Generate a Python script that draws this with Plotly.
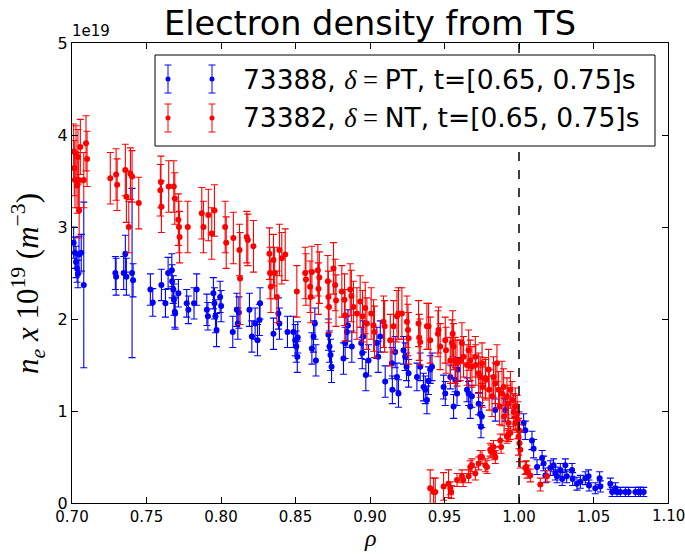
import plotly.graph_objects as go

# Thomson-scattering electron density profiles, in units of 1e19 m^-3
blue_rho = [0.7011, 0.7020, 0.7027, 0.7034, 0.7040, 0.7047, 0.7062, 0.7079,
            0.7291, 0.7296, 0.7347, 0.7358, 0.7365, 0.7403, 0.7410,
            0.7526, 0.7542, 0.7600, 0.7627, 0.7645, 0.7670, 0.7672, 0.7680, 0.7684, 0.7690, 0.7692,
            0.7714, 0.7770, 0.7781, 0.7819, 0.7837, 0.7905, 0.7912, 0.7949, 0.7956, 0.7963, 0.7970,
            0.7994, 0.8001, 0.8079, 0.8106, 0.8113, 0.8120, 0.8191, 0.8207, 0.8229, 0.8245, 0.8258,
            0.8262, 0.8352, 0.8385, 0.8392, 0.8446, 0.8486, 0.8498, 0.8505, 0.8512, 0.8515,
            0.8610, 0.8621, 0.8630, 0.8637, 0.8721, 0.8728, 0.8735, 0.8742, 0.8822, 0.8833,
            0.8845, 0.8852, 0.8878, 0.8941, 0.8948, 0.8955, 0.8972, 0.8990, 0.9046, 0.9055,
            0.9069, 0.9102, 0.9147, 0.9150, 0.9169, 0.9181, 0.9191, 0.9225, 0.9236, 0.9245,
            0.9259, 0.9315, 0.9337, 0.9359, 0.9371, 0.9382, 0.9393, 0.9404, 0.9416, 0.9494,
            0.9505, 0.9539, 0.9561, 0.9572, 0.9584, 0.9590, 0.9651, 0.9662, 0.9673, 0.9684,
            0.9729, 0.9740, 0.9745, 0.9750, 0.9841, 0.9908, 0.9975, 1.0031, 1.0042, 1.0087,
            1.0098, 1.0121, 1.0155, 1.0165, 1.0177, 1.0210, 1.0232, 1.0244, 1.0255, 1.0277,
            1.0290, 1.0311, 1.0320, 1.0356, 1.0360, 1.0389, 1.0412, 1.0445, 1.0467, 1.0470,
            1.0512, 1.0541, 1.0546, 1.0613, 1.0625, 1.0647, 1.0658, 1.0680, 1.0714, 1.0736,
            1.0781, 1.0803, 1.0815, 1.0837]
blue_ne = [2.83, 2.72, 2.62, 2.55, 2.49, 2.70, 2.72, 2.37,
           2.50, 2.46, 2.50, 2.71, 2.46, 2.50, 2.42,
           2.32, 2.18, 2.37, 2.17, 2.50, 2.53, 2.41, 2.32, 2.21, 2.08, 2.06,
           2.28, 2.17, 2.10, 2.17, 2.32, 2.10, 2.03, 2.28, 2.17, 2.03, 1.88,
           2.24, 2.14, 1.86, 2.10, 1.95, 2.07, 2.10, 1.81, 1.95, 1.77, 1.99,
           2.17, 1.84, 2.06, 1.95, 1.86, 1.86, 1.77, 1.70, 1.59, 1.80,
           1.68, 1.81, 1.95, 1.55, 1.83, 1.70, 1.61, 1.48, 1.57, 1.74,
           1.86, 1.93, 1.70, 1.74, 1.63, 1.81, 1.39, 1.55, 1.74, 1.59,
           1.81, 1.32, 1.52, 1.23, 1.64, 1.37, 1.19, 1.66, 1.59, 1.48,
           1.41, 1.37, 1.48, 1.26, 1.23, 1.12, 1.33, 1.45, 1.48, 1.26,
           1.19, 1.37, 1.05, 1.34, 1.19, 1.45, 1.23, 1.19, 1.05, 1.16,
           1.08, 0.97, 0.83, 0.94, 1.01, 1.01, 1.05, 0.87, 0.79, 0.68,
           0.59, 0.39, 0.49, 0.43, 0.30, 0.38, 0.41, 0.32, 0.29, 0.36,
           0.26, 0.41, 0.29, 0.36, 0.26, 0.21, 0.23, 0.27, 0.29, 0.19,
           0.16, 0.27, 0.18, 0.21, 0.12, 0.16, 0.12, 0.12, 0.12, 0.12,
           0.12, 0.12, 0.12, 0.12]
blue_err = [0.17, 0.17, 0.17, 0.15, 0.15, 0.20, 0.20, 0.90,
            0.18, 0.20, 0.18, 0.20, 0.20, 0.92, 0.18,
            0.17, 0.15, 0.17, 0.15, 0.17, 0.18, 0.18, 0.15, 0.17, 0.17, 0.17,
            0.15, 0.15, 0.15, 0.17, 0.17, 0.17, 0.15, 0.17, 0.17, 0.18, 0.18,
            0.17, 0.17, 0.17, 0.18, 0.17, 0.17, 0.18, 0.17, 0.17, 0.17, 0.17,
            0.17, 0.17, 0.17, 0.17, 0.17, 0.17, 0.17, 0.17, 0.17, 0.17,
            0.17, 0.17, 0.17, 0.17, 0.17, 0.17, 0.17, 0.17, 0.17, 0.17,
            0.17, 0.17, 0.17, 0.17, 0.17, 0.17, 0.17, 0.17, 0.17, 0.17,
            0.17, 0.17, 0.17, 0.15, 0.17, 0.15, 0.15, 0.15, 0.15, 0.15,
            0.15, 0.15, 0.15, 0.15, 0.15, 0.15, 0.15, 0.15, 0.15, 0.13,
            0.13, 0.13, 0.13, 0.13, 0.13, 0.13, 0.13, 0.13, 0.13, 0.12,
            0.12, 0.12, 0.12, 0.12, 0.12, 0.12, 0.12, 0.10, 0.10, 0.10,
            0.10, 0.08, 0.08, 0.08, 0.08, 0.08, 0.07, 0.07, 0.07, 0.07,
            0.07, 0.07, 0.07, 0.07, 0.07, 0.07, 0.07, 0.07, 0.07, 0.06,
            0.06, 0.07, 0.06, 0.06, 0.05, 0.06, 0.05, 0.05, 0.05, 0.05,
            0.05, 0.05, 0.05, 0.05]

red_rho = [0.7011, 0.7015, 0.7020, 0.7027, 0.7034, 0.7040, 0.7045, 0.7048, 0.7056, 0.7079,
           0.7094, 0.7101, 0.7257, 0.7296, 0.7303, 0.7358, 0.7365, 0.7381, 0.7392, 0.7403,
           0.7448, 0.7593, 0.7597, 0.7600, 0.7649, 0.7683, 0.7690, 0.7714, 0.7718, 0.7722,
           0.7777, 0.7871, 0.7882, 0.7915, 0.7938, 0.7956, 0.8028, 0.8035, 0.8083, 0.8124,
           0.8128, 0.8173, 0.8180, 0.8218, 0.8325, 0.8329, 0.8335, 0.8352, 0.8360, 0.8375,
           0.8392, 0.8408, 0.8431, 0.8509, 0.8565, 0.8570, 0.8598, 0.8602, 0.8610, 0.8650,
           0.8654, 0.8660, 0.8717, 0.8721, 0.8725, 0.8755, 0.8766, 0.8772, 0.8811, 0.8829,
           0.8833, 0.8867, 0.8875, 0.8889, 0.8912, 0.8934, 0.8950, 0.8968, 0.8979, 0.9008,
           0.9024, 0.9030, 0.9091, 0.9098, 0.9136, 0.9158, 0.9181, 0.9191, 0.9214, 0.9248,
           0.9255, 0.9259, 0.9326, 0.9330, 0.9337, 0.9382, 0.9393, 0.9404, 0.9456, 0.9460,
           0.9471, 0.9505, 0.9510, 0.9539, 0.9550, 0.9555, 0.9561, 0.9572, 0.9584, 0.9606,
           0.9617, 0.9628, 0.9651, 0.9662, 0.9673, 0.9684, 0.9707, 0.9710, 0.9729, 0.9740,
           0.9752, 0.9755, 0.9774, 0.9777, 0.9796, 0.9800, 0.9819, 0.9829, 0.9841, 0.9852,
           0.9863, 0.9870, 0.9886, 0.9897, 0.9900, 0.9919, 0.9925, 0.9930, 0.9942, 0.9953,
           0.9964, 0.9975, 0.9987, 0.9992, 0.9997, 1.0000, 1.0003, 1.0009,
           0.9404, 0.9427, 0.9438, 0.9494, 0.9527, 0.9539, 0.9545, 0.9584, 0.9617, 0.9625,
           0.9662, 0.9673, 0.9684, 0.9707, 0.9729, 0.9740, 0.9752, 0.9774, 0.9785, 0.9807,
           0.9812, 0.9829, 0.9835, 0.9841, 0.9874, 0.9880, 0.9919, 0.9925, 0.9942, 0.9975,
           1.0042, 1.0050, 1.0054, 1.0076, 1.0143, 1.0188]
red_ne = [3.82, 3.64, 3.51, 3.80, 3.45, 3.76, 3.51, 3.18, 3.87, 3.51,
          3.91, 3.74, 3.53, 3.57, 3.46, 3.62, 3.33, 3.00, 3.58, 3.55,
          3.26, 3.40, 3.49, 3.22, 3.44, 3.44, 3.31, 3.08, 3.00, 2.89,
          3.00, 3.15, 3.00, 3.13, 2.93, 3.18, 3.00, 2.83, 2.88, 2.75,
          2.44, 2.89, 2.86, 2.79, 2.71, 2.50, 2.35, 2.64, 2.50, 2.24,
          2.75, 2.66, 2.70, 2.30, 2.50, 2.43, 2.35, 2.24, 2.51, 2.53,
          2.33, 2.45, 2.41, 2.24, 2.13, 2.55, 2.37, 2.20, 2.30, 2.21,
          2.04, 2.32, 2.25, 2.13, 2.06, 2.19, 2.03, 2.12, 1.95, 2.06,
          1.93, 1.86, 1.97, 1.92, 1.77, 1.92, 2.03, 2.06, 2.06, 1.97,
          1.88, 1.79, 1.95, 1.80, 1.75, 1.92, 1.92, 1.77, 1.84, 1.88,
          1.70, 1.77, 1.66, 1.55, 1.74, 1.84, 1.70, 1.55, 1.52, 1.55,
          1.74, 1.59, 1.50, 1.66, 1.55, 1.48, 1.59, 1.50, 1.41, 1.37,
          1.52, 1.26, 1.36, 1.34, 1.45, 1.23, 1.16, 1.37, 1.30, 1.52,
          1.23, 1.05, 1.19, 1.26, 0.94, 1.16, 1.08, 0.87, 1.23, 1.12,
          0.99, 1.05, 0.97, 0.90, 0.72, 0.79, 0.65, 0.58,
          0.16, 0.12, 0.12, 0.18, 0.21, 0.16, 0.12, 0.25, 0.29, 0.25,
          0.29, 0.39, 0.41, 0.32, 0.43, 0.50, 0.50, 0.41, 0.39, 0.58,
          0.56, 0.61, 0.54, 0.50, 0.68, 0.61, 0.72, 0.74, 0.76, 0.87,
          0.38, 0.39, 0.34, 0.30, 0.20, 0.29]
red_err = [0.30] * 12 + [0.28] * 8 + [0.28] * 20 + [0.50] + [0.28] * 51 + \
          [0.25] * 17 + [0.22] * 20 + [0.20, 0.20, 0.20, 0.35] + [0.20] * 16 + \
          [0.15] * 4 + [0.07] * 30 + [0.06] * 6

x_ticks = [0.70, 0.75, 0.80, 0.85, 0.90, 0.95, 1.00, 1.05, 1.10]
y_ticks = [0, 1, 2, 3, 4, 5]
legend_labels = ["73388, <span style='font-family:Liberation Serif'><i>δ</i> = </span>PT, t=[0.65, 0.75]s",
                 "73382, <span style='font-family:Liberation Serif'><i>δ</i> = </span>NT, t=[0.65, 0.75]s"]
series_colors = ["#0000ff", "#ff0000"]

W, H = 685, 554
L, R, T, B = 72, 668, 43, 503


def pxx(px):
    return (px - L) / (R - L)


def pxy(py):
    return (B - py) / (B - T)


fig = go.Figure()
for rho, ne, err, col in [(blue_rho, blue_ne, blue_err, series_colors[0]),
                          (red_rho, red_ne, red_err, series_colors[1])]:
    fig.add_trace(go.Scatter(
        x=rho, y=ne, mode="markers",
        marker=dict(color=col, size=6, line=dict(width=0)),
        error_y=dict(type="data", array=err, visible=True, color=col,
                     thickness=1.1, width=3.5),
        showlegend=False, hoverinfo="skip"))

shapes = [dict(type="line", xref="x", yref="paper", x0=1.0, x1=1.0, y0=0, y1=1,
               line=dict(color="black", width=1.5, dash="dash"))]

# legend frame, errorbar glyphs and labels
lx0, lx1, ly0, ly1 = 155, 655, 55, 146
shapes.append(dict(type="rect", xref="paper", yref="paper",
                   x0=pxx(lx0), x1=pxx(lx1), y0=pxy(ly1), y1=pxy(ly0),
                   line=dict(color="black", width=1), fillcolor="white"))
annotations = []
for row, (cy, col, label) in enumerate(zip([79, 118], series_colors, legend_labels)):
    for cx in (168, 212):
        shapes.append(dict(type="line", xref="paper", yref="paper",
                           x0=pxx(cx), x1=pxx(cx), y0=pxy(cy - 14), y1=pxy(cy + 14),
                           line=dict(color=col, width=1)))
        for dy in (-14, 14):
            shapes.append(dict(type="line", xref="paper", yref="paper",
                               x0=pxx(cx - 3.5), x1=pxx(cx + 3.5),
                               y0=pxy(cy + dy), y1=pxy(cy + dy),
                               line=dict(color=col, width=1)))
        shapes.append(dict(type="circle", xref="paper", yref="paper",
                           x0=pxx(cx - 2.5), x1=pxx(cx + 2.5),
                           y0=pxy(cy + 2.5), y1=pxy(cy - 2.5),
                           line=dict(width=0), fillcolor=col))
    annotations.append(dict(text=label, xref="paper", yref="paper",
                            x=pxx(241), y=pxy(cy), xanchor="left", yanchor="middle",
                            showarrow=False, font=dict(size=26.5, color="black")))

annotations.append(dict(text="1e19", xref="paper", yref="paper", x=pxx(70), y=1,
                        xanchor="left", yanchor="bottom", yshift=1, showarrow=False,
                        font=dict(size=15, color="black")))
annotations.append(dict(
    text="<i>n</i><sub><i>e</i></sub> <i>x</i> 10<sup>19</sup> (<i>m</i><sup>−3</sup>)",
    xref="paper", yref="paper", x=pxx(28), y=pxy(284), textangle=-90,
    xanchor="center", yanchor="middle", showarrow=False,
    font=dict(size=31, family="Liberation Serif", color="black")))
annotations.append(dict(text="<i>ρ</i>", xref="paper", yref="paper", x=0.5, y=pxy(538),
                        xanchor="center", yanchor="middle", showarrow=False,
                        font=dict(size=24, family="Liberation Serif", color="black")))

# the axis drops its last label at the page edge, so that one is written here
last_tick = x_ticks[-1]
annotations.append(dict(text=f"{last_tick:.2f}", xref="x", yref="paper", x=last_tick, y=0,
                        xanchor="center", yanchor="top", yshift=-2, showarrow=False,
                        font=dict(size=15, color="black")))

axis_common = dict(showgrid=False, zeroline=False, showline=True, linecolor="black",
                   linewidth=1, mirror="ticks", ticks="inside", ticklen=6,
                   tickcolor="black")
fig.update_layout(
    width=W, height=H,
    margin=dict(l=L, r=W - R, t=T, b=H - B, autoexpand=False),
    paper_bgcolor="white", plot_bgcolor="white",
    font=dict(family="DejaVu Sans", color="black"),
    title=dict(text="Electron density from TS", x=0.5, xref="paper", xanchor="center",
               y=1 - 23 / H, yref="container", yanchor="middle",
               font=dict(size=33.5, color="black")),
    xaxis=dict(range=[0.70, 1.10], tickvals=x_ticks,
               ticktext=[f"{v:.2f}" if v < last_tick else "" for v in x_ticks],
               tickfont=dict(size=15, color="black"), **axis_common),
    yaxis=dict(range=[0, 5], tickvals=y_ticks, ticktext=[str(v) for v in y_ticks],
               tickfont=dict(size=16, color="black"), **axis_common),
    shapes=shapes, annotations=annotations,
)

fig.write_html("out.html")
